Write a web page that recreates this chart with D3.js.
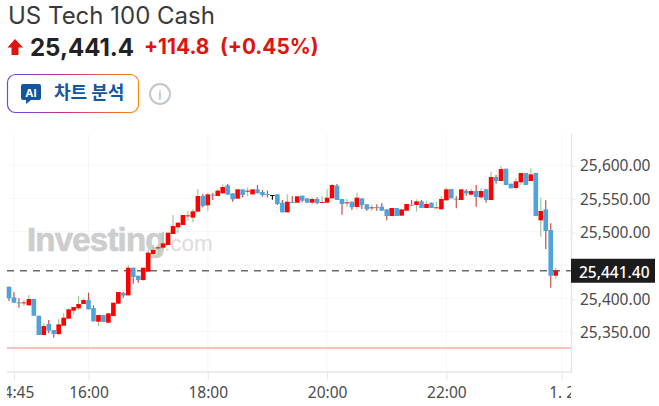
<!DOCTYPE html>
<html>
<head>
<meta charset="utf-8">
<script src="https://cdn.jsdelivr.net/npm/d3@7"></script>
<style>
  html, body { margin: 0; padding: 0; background: #fff; }
  svg { display: block; font-family: "Open Sans", "Noto Sans CJK KR", sans-serif; }
  .axis path { display: none; }
  .axis line { stroke: #e3e6ec; }
  .axis text { fill: #4a4a4a; font-size: 15.5px; font-family: "Noto Sans", "Open Sans", sans-serif; }
</style>
</head>
<body>
<div id="chart"></div>
<script>
// 5 minute candles, 14:40 to 23:50
var opens = [25417.5,25401.5,25394,25393,25389.5,25399,25374,25345,25361.5,25352.5,25346.5,25359,25369.5,25381.5,25385,25391.5,25397.5,25385.5,25365,25375,25363.5,25373.5,25392,25408,25404.5,25446,25434,25427.5,25440,25466.5,25475.5,25476,25480,25496.5,25506.5,25510,25523.5,25521,25530,25553.5,25539.5,25555.5,25553.5,25557.5,25569.5,25557.5,25549.5,25563.5,25560.5,25556,25563.5,25559.5,25556.5,25555,25556,25543.5,25529,25544.5,25543.5,25554,25550,25543.5,25549,25543.5,25543.5,25550,25569,25549,25543,25545,25537,25550,25541,25535.5,25537,25537.5,25533.5,25523.5,25535.5,25524,25531.5,25540.5,25540,25545.5,25535.5,25543.5,25535.5,25533.5,25547,25564,25549.5,25547.5,25561.5,25555.5,25561,25551.5,25563.5,25547.5,25582,25576,25594.5,25572,25565.5,25574,25588,25576,25588,25517,25533.5,25502.5,25434];
var highs = [25417.5,25409,25400,25397.5,25405,25399,25374,25362.5,25367.5,25352.5,25369,25377.5,25385,25387,25403.5,25400,25408.5,25389.5,25375,25375,25377.5,25393.5,25409.5,25410,25450,25446,25434,25446,25472.5,25480,25480,25500,25498.5,25525,25513.5,25525,25531.5,25533.5,25564,25556.5,25557.5,25558.5,25564,25571,25571.5,25557.5,25563.5,25563.5,25566.5,25563.5,25570,25562.5,25561.5,25555,25556,25547.5,25556,25553.5,25553,25554,25550,25551.5,25551.5,25553.5,25563.5,25571.5,25571.5,25549,25549,25545,25558.5,25550,25541,25540.5,25541,25542.5,25533.5,25535.5,25535.5,25533.5,25541.5,25547.5,25548.5,25547.5,25546.5,25543.5,25545,25553,25566,25564,25553,25563.5,25563.5,25564,25570,25565,25563.5,25590,25585,25598.5,25594.5,25572,25580,25588,25588,25595,25588,25551,25547,25512.5,25446];
var lows = [25396,25393.5,25386,25388.5,25389.5,25374,25345,25345,25347.5,25341,25345,25359,25369.5,25375.5,25382.5,25391.5,25383.5,25365.5,25358.5,25364.5,25363.5,25373.5,25392,25401,25404.5,25422,25423.5,25426.5,25440,25466.5,25465,25472.5,25480,25496.5,25498.5,25510,25516.5,25514,25530,25536.5,25531.5,25547.5,25553.5,25557.5,25555.5,25545,25549.5,25551.5,25553.5,25556,25557.5,25552.5,25551.5,25548,25540,25529,25529,25543.5,25543.5,25544,25543.5,25541,25541,25543.5,25543.5,25550,25547.5,25525.5,25537.5,25532.5,25533.5,25534,25531.5,25531.5,25531.5,25531.5,25517,25523.5,25523.5,25524,25531.5,25539.5,25530,25535.5,25535.5,25535.5,25535.5,25533.5,25547,25550,25535,25547.5,25554,25554.5,25537.5,25548.5,25543.5,25547.5,25572,25576,25570,25565,25563.5,25570,25570,25576,25523.5,25492.5,25474,25416,25429.5];
var closes = [25400,25393.5,25393,25394,25399,25374,25345,25358.5,25351.5,25346.5,25361,25371,25383.5,25387,25391.5,25397.5,25383.5,25365.5,25375,25364.5,25377.5,25393.5,25409.5,25404,25446,25432,25427.5,25446,25468.5,25472.5,25476.5,25482.5,25498.5,25508.5,25513.5,25525,25524.5,25530.5,25553.5,25538.5,25556,25554.5,25561.5,25567,25555.5,25548.5,25563.5,25555,25561.5,25563.5,25557.5,25555,25555,25555,25541.5,25529,25545,25543.5,25553,25546.5,25543.5,25549,25543,25544.5,25551,25570,25547.5,25541.5,25544,25536.5,25551,25540,25533.5,25536.5,25536,25531.5,25523.5,25535.5,25523.5,25533.5,25541.5,25539.5,25545.5,25535.5,25541.5,25535.5,25536.5,25549,25563.5,25550,25548,25563.5,25557.5,25561,25552,25561,25547.5,25582,25576,25594,25570,25565,25575.5,25588,25570,25586,25523.5,25531,25501,25434,25442];

var yTicks = [25350, 25400, 25500, 25550, 25600];
var xTickBars = [1, 16, 40, 64, 88, 111.2];
var xTickLabels = ["14:45", "16:00", "18:00", "20:00", "22:00", "1. 2"];
var lastPrice = 25441.4;
var prevClose = 25326.6;
var flatBar = 53; // the one black doji

var width = 659, height = 406;
var left = 7, right = 571, top_ = 134, bottom = 372;

var svg = d3.select("#chart").append("svg").attr("width", width).attr("height", height);

var x = d3.scaleLinear().domain([0, 110]).range([9, 555.7]);
var y = d3.scaleLinear().domain([25350, 25600]).range([331.7, 165]);

// header
svg.append("text").attr("x", 8).attr("y", 24).attr("fill", "#3a3a3a").attr("font-size", 24)
    .attr("font-family", "Inter, sans-serif").text("US Tech 100 Cash");
svg.append("path").attr("d", "M15 39 L23 47.5 L18.5 47.5 L18.5 55 L11.5 55 L11.5 47.5 L7.5 47.5 Z").attr("fill", "#e0140c");
svg.append("text").attr("x", 30).attr("y", 56).attr("fill", "#222").attr("font-size", 24).attr("font-weight", 700)
    .attr("font-family", "Inter, sans-serif").text("25,441.4");
svg.append("text").attr("x", 144).attr("y", 54).attr("fill", "#e0140c").attr("font-size", 20.8).attr("font-weight", 700)
    .attr("font-family", "Inter, sans-serif").text("+114.8");
svg.append("text").attr("x", 220).attr("y", 54).attr("fill", "#e0140c").attr("font-size", 20.8).attr("font-weight", 700)
    .attr("font-family", "Inter, sans-serif").text("(+0.45%)");

// AI button
var grad = svg.append("defs").append("linearGradient").attr("id", "btnGrad");
grad.append("stop").attr("offset", "0%").attr("stop-color", "#5b4df0");
grad.append("stop").attr("offset", "45%").attr("stop-color", "#d0308c");
grad.append("stop").attr("offset", "100%").attr("stop-color", "#ff8a00");
svg.append("rect").attr("x", 7.5).attr("y", 74.5).attr("width", 131).attr("height", 38).attr("rx", 8)
    .attr("fill", "#fff").attr("stroke", "url(#btnGrad)").attr("stroke-width", 1.2);
svg.append("path").attr("d", "M23 84 H39 Q41 84 41 86 V98 Q41 100 39 100 H31 L26 104 V100 H23 Q21 100 21 98 V86 Q21 84 23 84 Z").attr("fill", "#1256a0");
svg.append("text").attr("x", 31).attr("y", 97).attr("text-anchor", "middle").attr("fill", "#fff").attr("font-size", 11)
    .attr("font-weight", 700).attr("font-family", "Inter, sans-serif").text("AI");
svg.append("text").attr("x", 54).attr("y", 99).attr("fill", "#1256a0").attr("font-size", 18).attr("font-weight", 700)
    .attr("font-family", "'Noto Sans CJK KR'").text("차트 분석");
svg.append("circle").attr("cx", 160).attr("cy", 94).attr("r", 10).attr("fill", "none").attr("stroke", "#c4c6ca").attr("stroke-width", 2);
svg.append("text").attr("x", 160).attr("y", 100).attr("text-anchor", "middle").attr("fill", "#b5b7bb").attr("font-size", 15).text("i");

// grid
svg.append("g").selectAll("line").data(yTicks.concat([25450])).enter().append("line")
    .attr("x1", left).attr("x2", right).attr("y1", function(d) { return y(d); }).attr("y2", function(d) { return y(d); })
    .attr("stroke", "#f6f6f8");
svg.append("g").selectAll("line").data(xTickBars).enter().append("line")
    .attr("x1", function(d) { return x(d); }).attr("x2", function(d) { return x(d); }).attr("y1", top_).attr("y2", bottom)
    .attr("stroke", "#f6f6f8");

// watermark
svg.append("text").attr("x", 27).attr("y", 251).attr("fill", "#cdcdcd").attr("stroke", "#cdcdcd").attr("stroke-width", 0.7)
    .attr("font-size", 33).attr("font-weight", 700)
    .attr("font-family", "'Liberation Sans', sans-serif").attr("letter-spacing", -0.8).text("Investing");
svg.append("text").attr("x", 164).attr("y", 251).attr("fill", "#dcdcdc").attr("font-size", 22.5)
    .attr("font-family", "'Liberation Sans', sans-serif").text(".com");

// previous close and last price lines
svg.append("rect").attr("x", left).attr("width", right - left).attr("y", Math.round(y(prevClose))).attr("height", 2).attr("fill", "#fbc0b6");
svg.append("line").attr("x1", left).attr("x2", right).attr("y1", y(lastPrice)).attr("y2", y(lastPrice))
    .attr("stroke", "#6a6a6a").attr("stroke-width", 1.6).attr("stroke-dasharray", "7,6");

// candles
var bars = d3.range(opens.length);
var candle = svg.append("g").selectAll("g").data(bars).enter().append("g");

candle.append("line")
    .attr("x1", function(i) { return x(i); }).attr("x2", function(i) { return x(i); })
    .attr("y1", function(i) { return y(highs[i]); }).attr("y2", function(i) { return y(lows[i]); })
    .attr("stroke-width", 1.2)
    .attr("stroke", function(i) {
        if (i == flatBar) return "#111";
        return closes[i] >= opens[i] ? "#9ccb98" : "#c8513f";
    });

candle.append("rect")
    .attr("x", function(i) { return x(i) - 2.3; })
    .attr("width", 4.6)
    .attr("y", function(i) { return y(Math.max(opens[i], closes[i])); })
    .attr("height", function(i) { return Math.max(1, Math.abs(y(opens[i]) - y(closes[i]))); })
    .attr("fill", function(i) {
        if (i == flatBar) return "#111";
        return closes[i] >= opens[i] ? "#ff0000" : "#4fa3dd";
    });

// plot border
svg.append("line").attr("x1", left).attr("x2", right + 1).attr("y1", bottom).attr("y2", bottom).attr("stroke", "#e3e6ec").attr("stroke-width", 1.5);
svg.append("line").attr("x1", right + 0.5).attr("x2", right + 0.5).attr("y1", top_).attr("y2", bottom).attr("stroke", "#e3e6ec").attr("stroke-width", 1.5);

// axes
var yAxis = d3.axisRight(y).tickValues(yTicks).tickSize(3).tickPadding(5).tickFormat(d3.format(",.2f"));
svg.append("g").attr("class", "axis").attr("transform", "translate(" + (right + 1) + ",1)").call(yAxis);

// the outer x labels are cut by the plot edges, same as the original
svg.append("clipPath").attr("id", "xClip").append("rect").attr("x", left).attr("y", 0).attr("width", right - left).attr("height", 34);
var xAxis = d3.axisBottom(x).tickValues(xTickBars).tickSize(8).tickPadding(7)
    .tickFormat(function(d, i) { return xTickLabels[i]; });
svg.append("g").attr("class", "axis").attr("clip-path", "url(#xClip)").attr("transform", "translate(0," + bottom + ")").call(xAxis);

// last price tag
svg.append("rect").attr("x", right).attr("y", y(lastPrice) - 12).attr("width", 84).attr("height", 24).attr("fill", "#1c1c1c");
svg.append("text").attr("x", 579).attr("y", y(lastPrice) + 7).attr("fill", "#fff").attr("font-size", 15.5).attr("font-weight", 500)
    .attr("font-family", "'Noto Sans', sans-serif").text(d3.format(",.2f")(lastPrice));
</script>
</body>
</html>
